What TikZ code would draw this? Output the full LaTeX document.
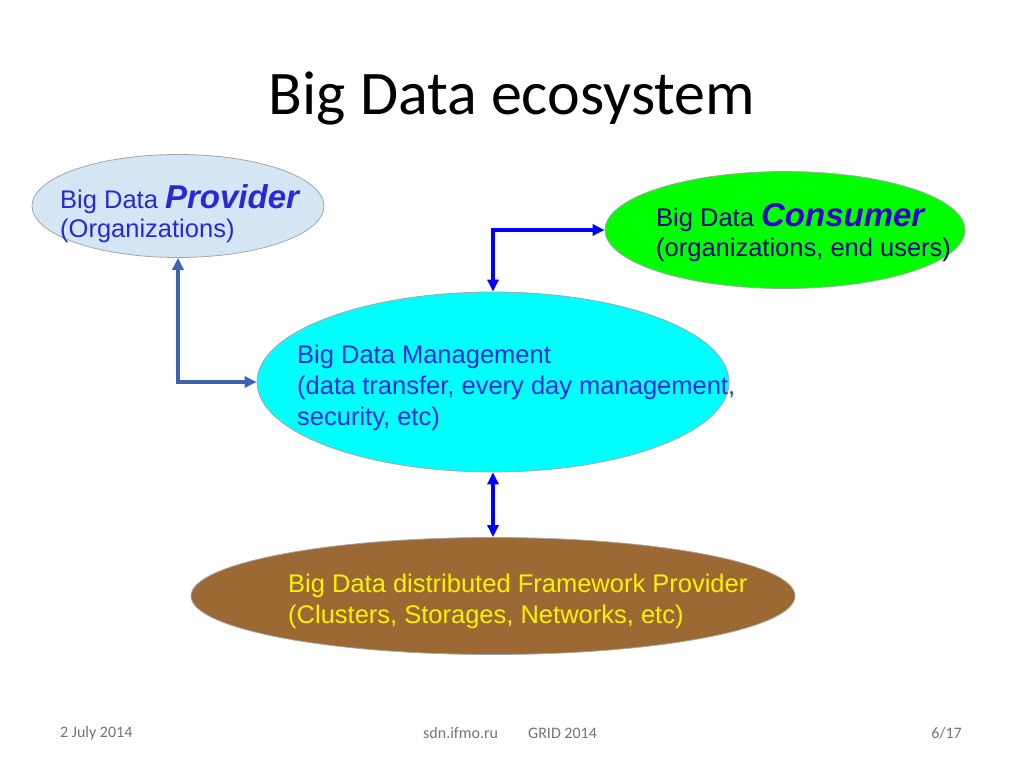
\documentclass[tikz,border=0pt]{standalone}
\usepackage{fontspec}
\setmainfont{Liberation Sans}
\newfontfamily\calib{Carlito}
\usetikzlibrary{shapes.geometric,arrows.meta}
\definecolor{provfill}{HTML}{D4E6F4}
\definecolor{brownf}{HTML}{9C6833}
\definecolor{steel}{HTML}{3C64B0}
\definecolor{txtblue}{HTML}{2828D8}
\definecolor{cyanf}{HTML}{00FFFF}
\definecolor{greenf}{HTML}{00FF00}
\tikzset{
  ell/.style={ellipse, draw=gray!70, line width=0.8pt},
  lbl/.style={anchor=west, inner sep=0pt, font=\fontsize{25.5}{30}\selectfont, align=left},
  conn/.style={{Triangle[length=12pt,width=11pt]}-{Triangle[length=12pt,width=11pt]}, line width=3.4pt},
  foot/.style={font=\calib\fontsize{16}{19}\selectfont, text=gray!90!black, inner sep=0pt}
}
\begin{document}
\begin{tikzpicture}[x=1pt,y=-1pt]
\useasboundingbox (0,0) rectangle (1024,768);
\node[font=\calib\fontsize{62}{70}\selectfont] (title) at (512,98) {Big Data ecosystem};
\node[ell, fill=provfill, minimum width=292pt, minimum height=103pt] (prov) at (178,206) {};
\node[ell, fill=greenf, minimum width=360pt, minimum height=117pt] (cons) at (785,230) {};
\node[ell, fill=cyanf, minimum width=472pt, minimum height=180pt] (mgmt) at (493,382) {};
\node[ell, fill=brownf, minimum width=604pt, minimum height=117pt] (fw) at (493,596) {};
\node[lbl, text=txtblue] (provt1) at (60,199) {Big Data {\fontsize{33}{36}\selectfont\bfseries\itshape Provider}};
\node[lbl, text=txtblue] (provt2) at (60,231) {(Organizations)};
\node[lbl, text=blue!50!black] (const1) at (656,218) {Big Data {\fontsize{33}{36}\selectfont\bfseries\itshape\color{blue!60!violet} Consumer}};
\node[lbl, text=blue!50!black] (const2) at (656,250) {(organizations, end users)};
\node[lbl, text=txtblue] (mg1) at (297,357) {Big Data Management};
\node[lbl, text=txtblue] (mg2) at (297,388) {(data transfer, every day management,};
\node[lbl, text=txtblue] (mg3) at (297,419) {security, etc)};
\node[lbl, text=yellow] (fw1) at (288,586) {Big Data distributed Framework Provider};
\node[lbl, text=yellow] (fw2) at (288,617) {(Clusters, Storages, Networks, etc)};
\draw[conn, steel] (prov.south) |- (mgmt.west);
\draw[conn, blue] (mgmt.north) |- (cons.west);
\draw[conn, blue] (mgmt.south) -- (fw.north);
\node[foot, anchor=west] (d) at (60,733) {2 July 2014};
\node[foot, anchor=west] (s) at (423,733) {sdn.ifmo.ru};
\node[foot, anchor=west] (g) at (528,733) {GRID 2014};
\node[foot, anchor=east] (p) at (962,733) {6/17};
\end{tikzpicture}
\end{document}
